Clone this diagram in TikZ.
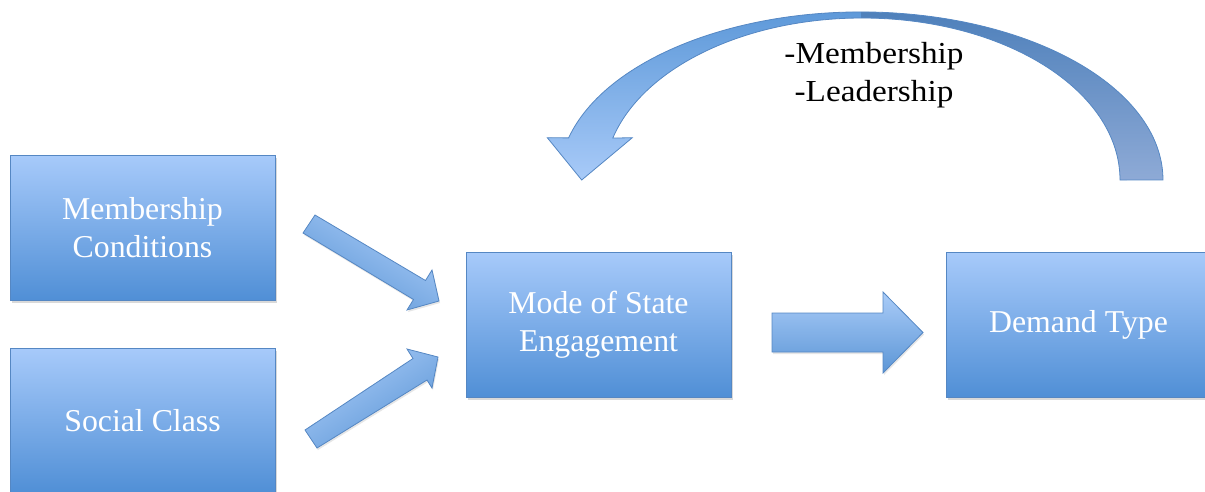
\documentclass[tikz,border=0pt]{standalone}
\usepackage{fontspec}
\setmainfont{Liberation Serif}
\usetikzlibrary{shadows}
\definecolor{boxtop}{RGB}{167,202,250}
\definecolor{boxbot}{RGB}{80,143,214}
\definecolor{boxedge}{RGB}{85,135,195}
\definecolor{arrtop}{RGB}{170,204,248}
\definecolor{arrbot}{RGB}{92,150,214}
\definecolor{curvLtop}{RGB}{86,148,214}
\definecolor{curvLbot}{RGB}{168,202,248}
\definecolor{curvRtop}{RGB}{72,124,184}
\definecolor{curvRbot}{RGB}{142,170,214}
\tikzset{
  box/.style={draw=boxedge, line width=1pt, top color=boxtop, bottom color=boxbot,
    minimum width=265pt, minimum height=145pt, inner sep=0pt, text=white, align=center,
    font=\fontsize{31.8}{37.5}\selectfont,
    drop shadow={shadow xshift=1.5pt, shadow yshift=-3pt, opacity=0.3}},
  blockarrow/.style={draw=boxedge, line width=0.8pt, line join=miter,
    drop shadow={shadow xshift=1pt, shadow yshift=-2pt, opacity=0.2}},
  fbtext/.style={font=\fontsize{30.5}{30}\selectfont, anchor=base, xscale=1.09, inner sep=0pt},
  curvpath/.style={insert path={(568.6,137.9) arc[start angle=194.5, end angle=360, x radius=302, y radius=168]
    -- (1120,180) arc[start angle=360, end angle=195, x radius=258, y radius=162]
    -- (632.3,137.7) -- (581.7,180) -- (547.3,137.7) -- cycle}}
}
\begin{document}
\begin{tikzpicture}[x=1pt, y=-1pt]
\path[use as bounding box] (0,0) rectangle (1205,491);
\clip (0,0) rectangle (1205,491);

% boxes
\node[box] (mc) at (142.5,227.5) {Membership\\Conditions};
\node[box] (sc) at (142.5,420.5) {Social Class};
\node[box] (mse) at (598.5,324.5) {Mode of State\\Engagement};
\node[box] (dt) at (1078.5,324.5) {Demand Type};

% block arrows
\shade[blockarrow, top color=arrtop, bottom color=arrbot, shading angle=-31]
  (315,215) -- (425.5,280.5) -- (432,270) -- (439,301) -- (407,310) -- (413.5,299.5) -- (303,233) -- cycle;
\shade[blockarrow, top color=arrtop, bottom color=arrbot, shading angle=33]
  (305,430) -- (413,358.5) -- (407,349) -- (438,357) -- (432,388) -- (427,380) -- (317,448) -- cycle;
\shade[blockarrow, top color=arrtop, bottom color=arrbot]
  (772,313) -- (883,313) -- (883,292) -- (923,332.5) -- (883,373) -- (883,352) -- (772,352) -- cycle;

% curved arrow
\begin{scope}
  \clip (0,0) rectangle (861,200);
  \shade[top color=curvLtop, bottom color=curvLbot, curvpath];
\end{scope}
\begin{scope}
  \clip (861,0) rectangle (1205,200);
  \shade[top color=curvRtop, bottom color=curvRbot, curvpath];
\end{scope}
\draw[draw=boxedge, line width=0.8pt, line join=miter, curvpath];

% feedback labels
\node[fbtext] (l1) at (874,63) {-Membership};
\node[fbtext] (l2) at (874,101) {-Leadership};
\end{tikzpicture}
\end{document}
